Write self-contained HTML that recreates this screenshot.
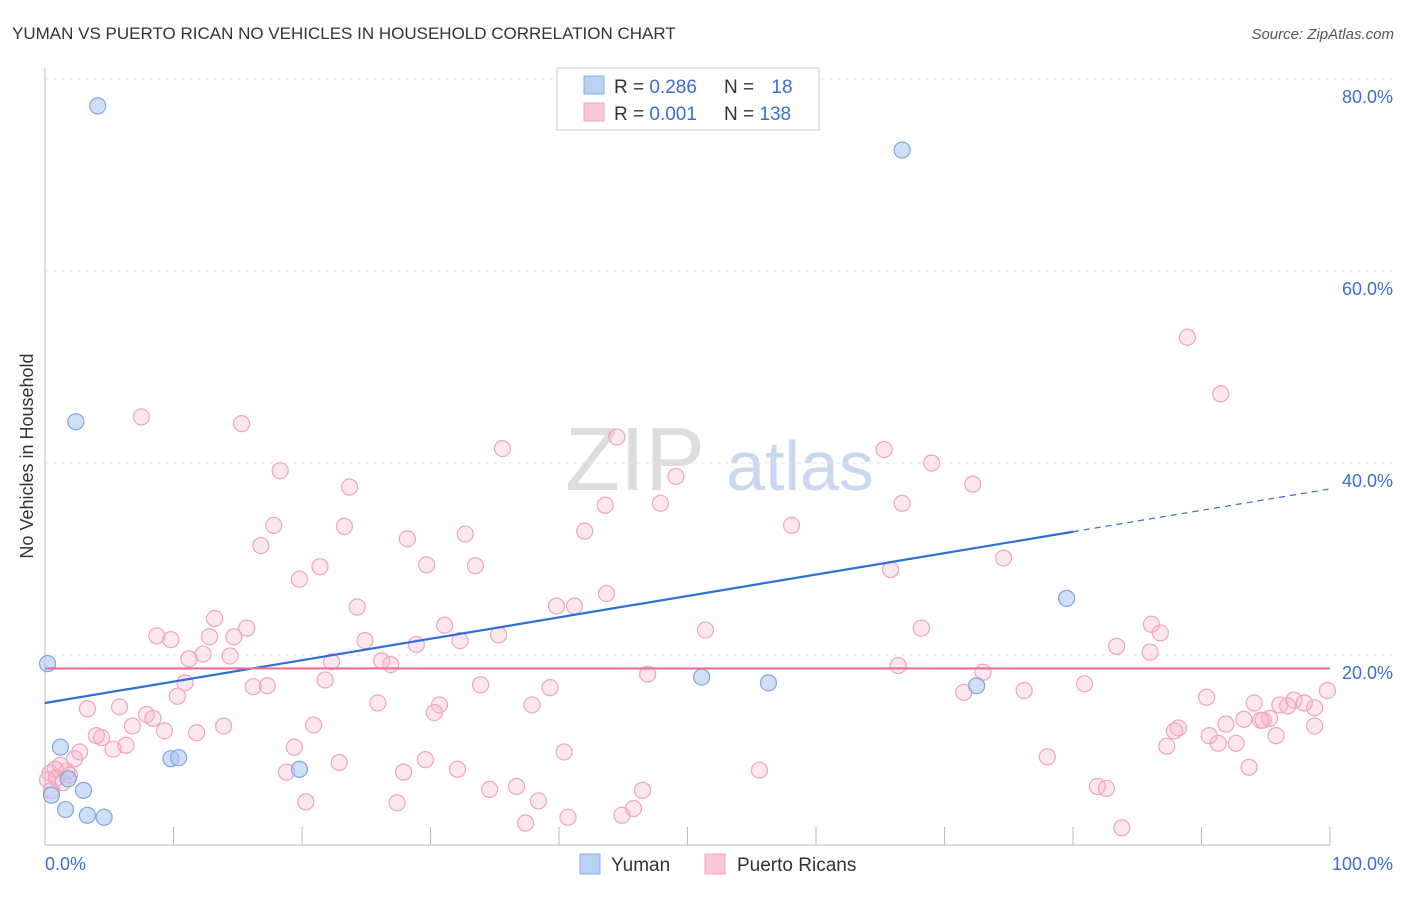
<!DOCTYPE html>
<html><head><meta charset="utf-8"><style>
body{margin:0;background:#fff;font-family:"Liberation Sans",sans-serif;}
svg text{font-family:"Liberation Sans",sans-serif;}
</style></head><body>
<svg id="chart" width="1406" height="892">
<text x="12" y="39" font-size="17" fill="#333">YUMAN VS PUERTO RICAN NO VEHICLES IN HOUSEHOLD CORRELATION CHART</text>
<text x="1394" y="39" font-size="15" fill="#555" font-style="italic" text-anchor="end">Source: ZipAtlas.com</text>
<text x="33" y="456" font-size="18" fill="#333" text-anchor="middle" transform="rotate(-90 33 456)">No Vehicles in Household</text>
<text x="635" y="490" font-size="90" fill="#ddd" font-family="Liberation Serif" text-anchor="middle">ZIP</text>
<text x="800" y="490" font-size="70" fill="#c8d8ee" text-anchor="middle">atlas</text>
<g id="grid"></g><g id="marks"></g>
<g>
<rect x="557" y="68" width="262" height="62" fill="#fff" stroke="#ccc"/>
<rect x="584" y="76" width="20" height="18" fill="#b9d1f3" stroke="#8ab0e0"/>
<rect x="584" y="103" width="20" height="18" fill="#f9c8d7" stroke="#f0a5bd"/>
<text x="614" y="93" font-size="19" fill="#333">R = <tspan fill="#3a6fd0">0.286</tspan></text>
<text x="724" y="93" font-size="19" fill="#333">N = <tspan fill="#3a6fd0" dx="12">18</tspan></text>
<text x="614" y="120" font-size="19" fill="#333">R = <tspan fill="#3a6fd0">0.001</tspan></text>
<text x="724" y="120" font-size="19" fill="#333">N = <tspan fill="#3a6fd0">138</tspan></text>
</g>
<g>
<rect x="580" y="854" width="20" height="20" fill="#b9d1f3" stroke="#8ab0e0"/>
<text x="611" y="871" font-size="19" fill="#333">Yuman</text>
<rect x="705" y="854" width="20" height="20" fill="#f9c8d7" stroke="#f0a5bd"/>
<text x="737" y="871" font-size="19" fill="#333">Puerto Ricans</text>
</g>
</svg>
<script>
const yTicks=[20,40,60,80];
const xTickCount=10;
const blueX=[4.1,66.7,2.4,0.2,79.5,51.1,56.3,72.5,1.2,9.8,10.4,19.8,1.8,3.0,0.5,1.6,3.3,4.6];
const blueY=[77.2,72.6,44.3,19.1,25.9,17.7,17.1,16.8,10.4,9.2,9.3,8.1,7.1,5.9,5.4,3.9,3.3,3.1];
const pinkX=[7.5,15.3,88.9,91.5,35.6,44.5,65.3,49.1,69.0,18.3,72.2,23.7,43.6,47.9,66.7,17.8,23.3,58.1,42.0,32.7,28.2,16.8,74.6,21.4,29.7,33.5,19.8,65.8,43.7,39.8,41.2,24.3,13.2,31.1,86.1,68.2,51.4,86.8,15.7,8.7,9.8,12.8,14.7,35.3,24.9,32.3,28.9,83.4,86.0,12.3,14.4,11.2,22.3,26.2,26.9,66.4,46.9,73.0,10.9,21.8,16.2,17.3,33.9,39.3,80.9,99.8,71.5,76.2,10.3,25.9,90.4,94.1,37.9,30.7,96.1,97.2,98.0,3.3,5.8,30.3,95.3,93.3,94.8,7.9,8.4,98.8,6.8,13.9,20.9,91.9,88.2,87.9,4.0,4.4,9.3,11.8,90.6,6.3,5.3,19.4,87.3,91.3,92.7,95.8,40.4,2.7,2.3,98.8,78.0,29.6,32.1,18.8,27.9,22.9,55.6,93.7,0.8,0.4,1.7,0.9,1.4,46.5,34.6,36.7,81.9,82.6,20.3,27.4,38.4,45.8,44.9,40.7,37.4,83.8,0.2,0.5,1.9,1.2,94.6,96.7];
const pinkY=[44.8,44.1,53.1,47.2,41.5,42.7,41.4,38.6,40.0,39.2,37.8,37.5,35.6,35.8,35.8,33.5,33.4,33.5,32.9,32.6,32.1,31.4,30.1,29.2,29.4,29.3,27.9,28.9,26.4,25.1,25.1,25.0,23.8,23.1,23.2,22.8,22.6,22.3,22.8,22.0,21.6,21.9,21.9,22.1,21.5,21.5,21.1,20.9,20.3,20.1,19.9,19.6,19.3,19.4,19.0,18.9,18.0,18.2,17.1,17.4,16.7,16.8,16.9,16.6,17.0,16.3,16.1,16.3,15.7,15.0,15.6,15.0,14.8,14.8,14.8,15.3,15.0,14.4,14.6,14.0,13.4,13.3,13.2,13.8,13.4,14.5,12.6,12.6,12.7,12.8,12.4,12.1,11.6,11.4,12.1,11.9,11.6,10.6,10.2,10.4,10.5,10.8,10.8,11.6,9.9,9.9,9.2,12.6,9.4,9.1,8.1,7.8,7.8,8.8,8.0,8.3,8.1,7.7,7.9,7.2,6.7,5.9,6.0,6.3,6.3,6.1,4.7,4.6,4.8,4.0,3.3,3.1,2.5,2.0,7.0,5.9,7.5,8.5,13.2,14.7];
const blueTrend=[15.0,37.3];
const pinkTrend=[18.6,18.6];
const X0=45,X1=1330,Y0=847,PER=9.6;
const sx=v=>X0+(X1-X0)*v/100, sy=v=>Y0-v*PER;
const NS='http://www.w3.org/2000/svg';
function mk(tag,attrs,parent){const e=document.createElementNS(NS,tag);for(const k in attrs)e.setAttribute(k,attrs[k]);parent.appendChild(e);return e;}
const grid=document.getElementById('grid'),marks=document.getElementById('marks');
let ax=mk('line',{x1:X0,y1:68,x2:X0,y2:845,stroke:'#bbb'},grid);


let bx=mk('line',{x1:X0,y1:845,x2:X1,y2:845,stroke:'#bbb'},grid);


yTicks.forEach(t=>{
 const l=mk('line',{x1:X0,y1:sy(t),x2:1392,y2:sy(t),stroke:'#e3e3e3','stroke-dasharray':'4,4'},grid);
 
 
 const tx=mk('text',{x:1393,y:sy(t)+24,'font-size':18,fill:'#3a6fd0','text-anchor':'end'},grid);tx.textContent=t.toFixed(1)+'%';
 
 
});
for(let i=1;i<=xTickCount;i++){
 const l=mk('line',{x1:sx(i*10),y1:827,x2:sx(i*10),y2:845,stroke:'#bbb'},grid);
 
 
}
let t0=mk('text',{x:45,y:870,'font-size':18,fill:'#3a6fd0'},grid);t0.textContent='0.0%';


let t1=mk('text',{x:1393,y:870,'font-size':18,fill:'#3a6fd0','text-anchor':'end'},grid);t1.textContent='100.0%';


pinkX.forEach((x,i)=>{
 const c=mk('circle',{cx:sx(x),cy:sy(pinkY[i]),r:8,fill:'rgba(246,175,198,0.3)',stroke:'#f0a5bd','stroke-width':1.2},marks);
 
 
});
blueX.forEach((x,i)=>{
 const c=mk('circle',{cx:sx(x),cy:sy(blueY[i]),r:8,fill:'rgba(165,198,240,0.55)',stroke:'#7fa6dc','stroke-width':1.2},marks);
 
 
});
const bAt=x=>blueTrend[0]+(blueTrend[1]-blueTrend[0])*x/100;
let bl=mk('line',{x1:sx(0),y1:sy(bAt(0)),x2:sx(80),y2:sy(bAt(80)),stroke:'#2f6fd6','stroke-width':2.2},marks);


let bd=mk('line',{x1:sx(80),y1:sy(bAt(80)),x2:sx(100),y2:sy(bAt(100)),stroke:'#2f6fd6','stroke-width':1.2,'stroke-dasharray':'6,5'},marks);


let pl=mk('line',{x1:sx(0),y1:sy(pinkTrend[0]),x2:sx(100),y2:sy(pinkTrend[1]),stroke:'#e8709a','stroke-width':2.2},marks);


</script>
</body></html>
